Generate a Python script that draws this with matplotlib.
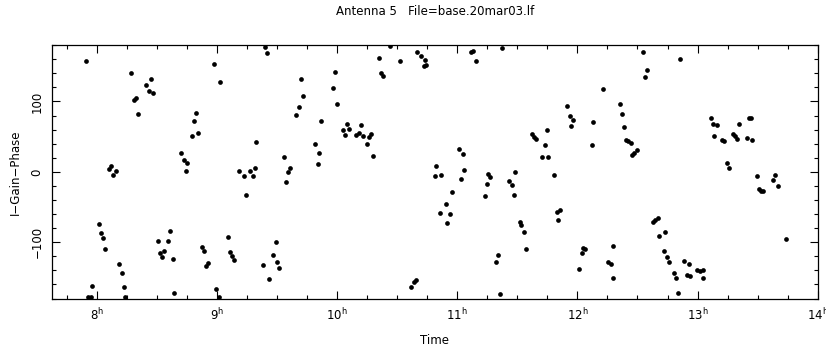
import matplotlib
matplotlib.use('Agg')
import matplotlib.pyplot as plt
from matplotlib.ticker import MultipleLocator

title = "Antenna 5   File=base.20mar03.lf"

# time (hours) and phase (deg)
hours = [
    7.911, 8.289, 8.311, 8.328, 8.339, 8.411, 8.431, 8.450, 8.464, 8.103,
    8.122, 8.139, 8.156, 8.022, 8.036, 8.056, 8.069, 8.186, 8.206, 8.225,
    7.961, 7.931, 7.950, 8.236, 8.506, 8.528, 8.544, 8.556, 8.592, 8.611,
    8.631, 8.642, 8.703, 8.722, 8.750, 8.739, 8.792, 8.811, 8.825, 8.839,
    8.875, 8.892, 8.906, 8.922, 8.978, 9.028, 8.994, 9.014, 9.092, 9.111,
    9.128, 9.144, 9.183, 9.222, 9.239, 9.278, 9.297, 9.314, 9.328, 9.383,
    9.436, 9.467, 9.489, 9.500, 9.517, 9.397, 9.419, 9.556, 9.578, 9.592,
    9.606, 9.656, 9.686, 9.700, 9.714,
    9.964, 9.981, 10.000, 9.867, 9.819, 9.853, 9.839, 10.047, 10.067, 10.081,
    10.097, 10.161, 10.183, 10.203, 10.217, 10.253, 10.269, 10.286, 10.300, 10.347,
    10.369, 10.383, 10.444, 10.522, 10.664, 10.697, 10.728, 10.742, 10.722, 10.614,
    10.639, 10.653, 10.822, 10.817, 10.867, 10.953, 10.906, 10.853, 10.939, 10.917,
    11.011, 11.047, 11.058, 11.031, 11.117, 11.133, 11.158, 11.369, 11.244, 11.258,
    11.275, 11.228, 11.322, 11.342, 11.358, 11.433, 11.453, 11.481, 11.469, 11.519,
    11.533, 11.553, 11.572, 11.619, 11.639, 11.658, 11.747, 11.728, 11.708, 11.753,
    11.803, 11.828, 11.842, 11.853,
    11.917, 11.936, 11.964, 11.950, 12.133, 12.119, 12.214, 12.358, 12.375, 12.389,
    12.403, 12.425, 12.447, 12.492, 12.472, 12.458, 12.542, 12.581, 12.564, 12.853,
    12.047, 12.042, 12.064, 12.014, 12.300, 12.258, 12.283, 12.292, 12.628, 12.647,
    12.667, 12.683, 12.733, 12.717, 12.744, 12.764, 12.803, 12.819, 12.836, 12.889,
    12.928, 12.908, 12.939, 12.992, 13.017, 13.042, 13.044, 13.111, 13.131, 13.158,
    13.139, 13.200, 13.219, 13.247, 13.264, 13.294, 13.308, 13.325, 13.344, 13.408,
    13.450, 13.428, 13.447, 13.492, 13.514, 13.531, 13.544, 13.631, 13.647, 13.669,
    13.736,
]
phase = [
    157.4, 140.9, 101.7, 105.4, 81.8, 122.9, 114.4, 132.4, 112.5, 4.7,
    9.0, -4.7, 1.4, -73.8, -86.5, -94.6, -110.2, -131.4, -144.2, -163.1,
    -162.2, -178.3, -178.3, -178.3, -98.3, -115.8, -121.5, -112.1, -98.3, -84.6,
    -123.9, -171.6, 27.4, 16.5, 13.2, 1.9, 51.1, 72.8, 84.2, 54.8,
    -106.4, -112.1, -133.8, -130.0, 152.7, 127.2, -166.9, -178.3, -92.7, -114.4,
    -119.6, -125.3, 1.4, -6.1, -32.2, 0.9, -6.1, 5.7, 42.6, -132.4,
    -152.7, -118.7, -99.3, -128.1, -136.6, 177.3, 168.8, 21.7, -14.2, -0.9,
    5.7, 80.4, 92.2, 131.9, 107.8,
    119.1, 141.4, 96.9, 72.8, 40.2, 27.0, 11.3, 60.0, 52.0, 67.6,
    61.5, 52.0, 55.3, 66.2, 50.6, 39.2, 49.6, 54.4, 22.7, 162.2,
    140.4, 135.7, 178.3, 157.4, 169.7, 164.1, 158.4, 152.2, 149.9, -164.1,
    -157.0, -153.2, 9.0, -6.1, -4.7, -29.3, -45.4, -58.2, -59.6, -72.3,
    33.1, 25.1, 2.8, -9.9, 169.7, 171.6, 157.4, 176.4, -17.5, -2.4,
    -7.1, -35.0, -128.6, -118.2, -173.5, -12.3, -18.4, 0.0, -32.2, -71.4,
    -75.2, -85.6, -109.7, 53.9, 49.6, 46.8, 59.1, 38.8, 21.7, 21.7,
    -3.8, -57.2, -69.0, -54.4,
    94.1, 79.9, 73.3, 64.8, 71.4, 37.8, 117.3, 96.9, 82.7, 63.8,
    45.9, 44.0, 41.6, 31.7, 27.0, 23.6, 170.2, 144.2, 134.3, 160.8,
    -108.7, -115.8, -109.7, -138.5, -105.0, -128.6, -131.0, -150.8, -70.9, -68.6,
    -66.2, -91.3, -85.1, -112.1, -121.5, -128.6, -144.2, -150.8, -172.6, -126.7,
    -131.0, -147.0, -147.5, -139.5, -140.4, -139.5, -150.4, 77.1, 68.6, 66.2,
    50.6, 44.9, 44.0, 13.2, 6.1, 53.4, 50.6, 46.3, 68.6, 48.7,
    44.9, 77.1, 77.1, -6.6, -24.1, -27.0, -26.5, -11.8, -4.7, -19.9,
    -96.0,
]

xticks = [8, 9, 10, 11, 12, 13, 14]
xticklabels = [r'$%d^{\mathrm{h}}$' % h for h in xticks]
yticks = [-100, 0, 100]
yticklabels = ['\u2212100', '0', '100']

fig = plt.figure(figsize=(8.26, 3.5), dpi=100)
ax = fig.add_axes([0.0626, 0.147, 0.9274, 0.724])

ax.plot(hours, phase, 'o', color='black', markersize=3.4, markeredgewidth=0)

ax.set_xlim(7.625, 14.0)
ax.set_ylim(-180, 180)

ax.set_xticks(xticks)
ax.set_xticklabels(xticklabels, fontsize=8.5)
ax.xaxis.set_minor_locator(MultipleLocator(0.25))
ax.set_yticks(yticks)
ax.set_yticklabels(yticklabels, fontsize=8.5, rotation=90, va='center')
ax.yaxis.set_minor_locator(MultipleLocator(20))

ax.tick_params(which='both', direction='in', top=True, right=True, width=0.8)
ax.tick_params(which='major', length=6, pad=6)
ax.tick_params(which='minor', length=3)
for s in ax.spines.values():
    s.set_linewidth(0.9)

ax.set_title(title, fontsize=8.5, pad=22)
ax.set_xlabel('Time', fontsize=8.5, labelpad=8)
ax.set_ylabel('I\u2212Gain\u2212Phase', fontsize=8.5, labelpad=6)

fig.savefig('out.png', dpi=100)
